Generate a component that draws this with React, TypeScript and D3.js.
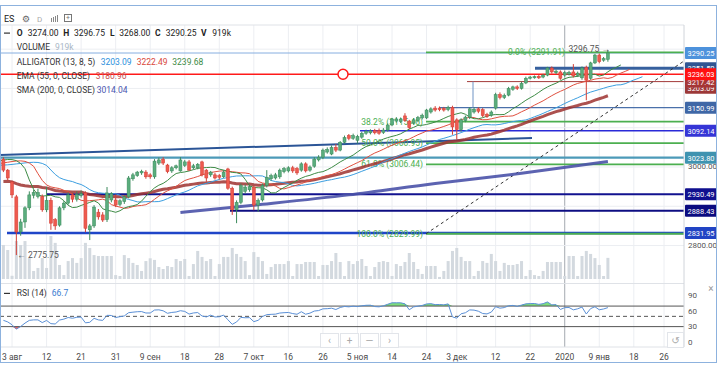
import React from 'react';
import * as d3 from 'd3';

// ---------- DATA ----------
const opens = [3020,2992,2962,2924,2835,2860,2896,2928,2925,2925,2891,2915,2866,2852,2896,2908,2929,2918,2928,2934,2840,2850,2885,2878,2866,2916,2916,2905,2912,2924,2970,2978,2985,2987,2980,2975,3010,3020,3005,2990,2998,2990,3004,3013,2998,2998,3013,2992,2980,2980,2978,2975,2995,2946,2891,2910,2938,2942,2949,2903,2916,2953,2970,2972,2975,2988,2990,2998,2996,2992,3008,2992,3002,3018,3025,3038,3033,3050,3043,3063,3080,3073,3068,3076,3086,3087,3093,3093,3088,3094,3107,3117,3116,3130,3117,3112,3118,3125,3125,3140,3150,3150,3149,3146,3152,3120,3095,3118,3127,3140,3148,3146,3134,3132,3150,3184,3177,3183,3198,3204,3200,3214,3226,3227,3231,3229,3234,3252,3240,3242,3234,3236,3242,3233,3227,3254,3226,3265,3285,3272,3274];
const highs = [3025,2995,2965,2929,2868,2900,2938,2942,2945,2930,2949,2922,2870,2900,2913,2935,2934,2938,2940,2938,2855,2903,2893,2885,2949,2936,2930,2918,2928,2977,2985,2990,2993,2992,2984,3020,3024,3025,3008,3002,3006,3025,3018,3018,3008,3010,3016,2995,2990,2985,2982,2992,2998,2950,2915,2958,2955,2955,2953,2920,2958,2992,2983,2985,2996,3000,3002,3003,3000,3012,3012,3004,3025,3030,3047,3050,3055,3058,3066,3080,3084,3085,3082,3090,3095,3096,3097,3098,3099,3111,3125,3127,3126,3137,3120,3124,3130,3136,3148,3152,3155,3154,3153,3156,3156,3124,3124,3131,3152,3152,3152,3150,3138,3144,3189,3190,3187,3204,3207,3208,3217,3230,3232,3233,3234,3237,3255,3256,3248,3246,3244,3245,3262,3243,3256,3258,3268,3288,3289,3280,3296.75];
const lows = [2987,2965,2921,2775.75,2825,2845,2890,2920,2920,2886,2885,2840,2840,2848,2890,2904,2910,2912,2922,2834,2814,2845,2866,2860,2860,2910,2898,2900,2906,2920,2965,2975,2980,2970,2970,2970,3005,3005,2984,2985,2994,2988,3000,2990,2994,2994,2976,2962,2975,2968,2968,2972,2942,2878,2857,2905,2932,2937,2890,2886,2912,2948,2965,2968,2970,2984,2986,2985,2980,2988,2986,2988,2998,3014,3020,3034,3030,3038,3040,3060,3068,3069,3060,3072,3082,3083,3083,3082,3084,3090,3104,3113,3112,3115,3096,3108,3114,3121,3122,3136,3141,3142,3141,3142,3082,3070,3090,3114,3122,3136,3137,3127,3125,3128,3146,3172,3173,3180,3194,3196,3197,3211,3223,3225,3224,3226,3231,3238,3236,3222,3230,3233,3228,3229,3222,3170,3222,3262,3264,3268,3268];
const closes = [2992,2972,2929,2834.5,2860,2896,2929,2935,2935,2891,2915,2857,2850,2896,2908,2929,2918,2930,2932,2844,2850,2898,2873,2865,2934,2932,2903,2914,2924,2972,2980,2987,2989,2975,2975,3015,3018,3010,2988,2998,3003,3018,3013,2992,3003,3007,2980,2972,2987,2972,2974,2987,2946,2891,2910,2953,2949,2950,2903,2915,2953,2974,2978,2980,2992,2996,2998,2990,2985,3008,2990,3000,3020,3025,3043,3045,3050,3043,3063,3075,3073,3080,3078,3086,3091,3092,3087,3086,3094,3107,3122,3122,3122,3119,3100,3120,3126,3132,3145,3148,3145,3146,3145,3152,3102,3095,3120,3127,3148,3147,3142,3131,3129,3140,3184,3177,3182,3200,3204,3200,3213,3226,3229,3230,3227,3234,3252,3242,3244,3226,3240,3241,3232,3239,3252,3221,3265,3285,3268,3276,3290.25];
const volumes = [1480,1260,140,1650,1480,1650,910,350,480,910,480,1870,1570,610,170,780,910,700,910,1570,1350,1040,1000,1000,1000,1000,170,130,1040,910,700,610,350,780,900,830,520,435,565,520,870,780,870,130,650,1220,960,780,870,130,650,960,960,1350,1090,960,780,170,1170,960,780,220,520,650,650,650,780,130,650,650,740,740,740,130,610,610,780,1130,740,130,780,650,780,870,565,130,520,740,780,740,130,650,565,740,1130,740,435,220,565,565,565,90,350,780,1220,1350,960,780,780,130,350,780,700,1090,780,350,700,610,610,650,780,130,390,170,130,350,740,740,740,740,130,1000,1000,130,1000,1220,1090,910,610,130,919];
// median prices of the bars just before the visible range (alligator warm-up)
const preMedians = [3002,3006,3011,3015,3012,3008,3014,3019,3024,3023,3027,3024,3018];
const emaSeed = 2962;
const prevClose = 3022;
const rsiSeedGain = 9;
const rsiSeedLoss = 10;
// SMA(200) at a few bars
const smaBars = [41,60,80,100,120,140];
const smaValues = [2884,2905,2929,2958,2984,3014];

const tickBars = [2,10,18,26,34,42,50,58,66,74,82,90,98,105,114,122,130,138,146,153];
const tickLabels = ['3 авг','12','21','31','9 сен','18','28','7 окт','16','26','5 ноя','14','24','3 дек','12','22','2020','9 янв','18','26'];
const priceTicks = [2800,2900,3000,3100,3200,3300];
const rsiTicks = [0,30,60,90];

const fibHigh = 3291.91;
const fibLow = 2829.99;
const fibLevels = [0,0.382,0.5,0.618,1];

// ---------- LAYOUT ----------
const PANE_R = 684;
const MAIN_T = 25, MAIN_B = 282;
const RSI_T = 285, RSI_B = 347;
const LBL_H = 12;

const N = closes.length;
const x = d3.scaleLinear().domain([0, N - 1]).range([3.4, 607.9]);
const y = d3.scaleLinear().domain([2831.95, 3290.25]).range([233, 53]);
const yVol = d3.scaleLinear().domain([0, 2000]).range([279, 233]);
const yR = d3.scaleLinear().domain([0, 100]).range([342, 290.7]);

const FONT = 'Roboto, "Open Sans", sans-serif';

function smma(src: number[], n: number) {
  const out: number[] = [];
  let v = src[0];
  src.forEach((p, i) => {
    v = i === 0 ? p : (v * (n - 1) + p) / n;
    out.push(v);
  });
  return out;
}

export default function App() {
  const medians = [...preMedians, ...highs.map((h, i) => (h + lows[i]) / 2)];
  const P = preMedians.length;
  const alligator = [
    { n: 13, shift: 8, color: '#3b9ee0' },
    { n: 8, shift: 5, color: '#e0503f' },
    { n: 5, shift: 3, color: '#3d8b45' },
  ].map((a) => {
    const s = smma(medians, a.n);
    const pts: [number, number][] = [];
    s.forEach((v, k) => {
      const b = k - P + a.shift;
      if (b >= -2) pts.push([x(b), y(v)]);
    });
    return { ...a, pts };
  });

  const alpha = 2 / 56;
  let e = emaSeed;
  const ema = closes.map((c) => (e = e + alpha * (c - e)));

  let ag = rsiSeedGain, al = rsiSeedLoss, pc = prevClose;
  const rsi = closes.map((c) => {
    const d = c - pc;
    pc = c;
    ag = (ag * 13 + Math.max(d, 0)) / 14;
    al = (al * 13 + Math.max(-d, 0)) / 14;
    return 100 - 100 / (1 + ag / al);
  });

  const line = d3.line<[number, number]>().x((d) => d[0]).y((d) => d[1]);
  const emaPath = d3.line<number>().x((_, i) => x(i)).y((d) => y(d))(ema) || '';
  const smaPath = d3.line<number>().x((_, i) => x(smaBars[i])).y((d) => y(d)).curve(d3.curveMonotoneX)(smaValues) || '';
  const rsiPath = d3.line<number>().x((_, i) => x(i)).y((d) => yR(d))(rsi) || '';
  const obArea = d3.area<number>().x((_, i) => x(i)).y0(yR(70)).y1((d) => yR(Math.max(d, 70)))(rsi) || '';
  const osArea = d3.area<number>().x((_, i) => x(i)).y0(yR(30)).y1((d) => yR(Math.min(d, 30)))(rsi) || '';

  const xb = (px: number) => x.invert(px);

  // horizontal drawings: [price, startBar, color, width]
  const hLines: [number, number, string, number][] = [
    [3290.25, xb(0), '#86aee0', 1],
    [3251.5, xb(535), '#36609e', 3],
    [3236.03, xb(0), '#ff1a1a', 1.5],
    [3217.42, xb(467), '#a33a3a', 1],
    [3150.99, xb(440), '#4a70aa', 1.2],
    [3092.14, xb(360), '#2a2ad8', 1.6],
    [3023.8, xb(0), '#4c9ab8', 2.2],
    [2930.49, xb(47), '#12128f', 2],
    [2888.43, xb(230), '#0d0d82', 2],
    [2831.95, xb(7), '#1f45c8', 2.4],
  ];

  const priceLabels: [number, string, string][] = [
    [3251.5, '3251.50', '#2f5592'],
    [3202.0, '3203.09', '#9c3838'],
    [3217.42, '3217.42', '#a53636'],
    [3236.03, '3236.03', '#ff1111'],
    [3290.25, '3290.25', '#4d92dc'],
    [3150.99, '3150.99', '#3f67a6'],
    [3092.14, '3092.14', '#3535d6'],
    [3023.8, '3023.80', '#3f93b0'],
    [2930.49, '2930.49', '#10108f'],
    [2888.43, '2888.43', '#0b0b80'],
    [2831.95, '2831.95', '#2144c4'],
  ];
  const visibleTicks = priceTicks.filter((p) => priceLabels.every(([lp]) => Math.abs(y(lp) - y(p)) > 9));

  const fibStart = xb(426);
  const trendA: [number, number] = [x(-0.79), y(3030.5)];
  const trendB: [number, number] = [x(xb(532)), y(3073.9)];

  const last = N - 1;

  return (
    <svg width={720} height={365} style={{ display: 'block', position: 'absolute', left: 0, top: 0, background: '#fff' }} fontFamily={FONT}>
      <defs>
        <clipPath id="mainClip"><rect x={0} y={MAIN_T} width={PANE_R} height={MAIN_B - MAIN_T} /></clipPath>
        <clipPath id="rsiClip"><rect x={0} y={RSI_T} width={PANE_R} height={RSI_B - RSI_T} /></clipPath>
      </defs>
      <rect x={0} y={0} width={720} height={365} fill="#fff" />

      {/* grid */}
      {tickBars.map((b, i) => (
        <line key={'vg' + i} x1={x(b)} x2={x(b)} y1={MAIN_T} y2={RSI_B} stroke={tickLabels[i] === '2020' ? '#a4a9b0' : '#eceef2'} strokeWidth={1} />
      ))}
      {priceTicks.map((p) => (
        <line key={'hg' + p} x1={0} x2={PANE_R} y1={y(p)} y2={y(p)} stroke="#eceef2" />
      ))}

      <g clipPath="url(#mainClip)">
        {/* volume */}
        {volumes.map((v, i) => (
          <rect key={'v' + i} x={x(i) - 1.5} y={yVol(v)} width={3} height={yVol(0) - yVol(v)} fill="#d3d9df" />
        ))}

        {/* horizontal drawings */}
        {hLines.map(([p, b, c, w], i) => (
          <line key={'hl' + i} x1={x(b)} x2={PANE_R} y1={y(p)} y2={y(p)} stroke={c} strokeWidth={w} />
        ))}
        <line x1={x(xb(473))} x2={x(xb(473))} y1={y(3217.42)} y2={y(3150.99)} stroke="#6f93c4" strokeWidth={1} />
        <path d={line([trendA, trendB]) || ''} stroke="#2b5597" strokeWidth={2} fill="none" />

        {/* fib */}
        {fibLevels.map((r) => {
          const p = fibHigh - r * (fibHigh - fibLow);
          return <line key={'fib' + r} x1={x(fibStart)} x2={PANE_R} y1={y(p)} y2={y(p)} stroke="#4caf50" strokeWidth={1.8} />;
        })}
        <line x1={x(fibStart)} y1={y(fibLow)} x2={x(xb(697))} y2={y(fibHigh)} stroke="#333" strokeWidth={1} strokeDasharray="3,3" />
        {fibLevels.map((r) => {
          const p = fibHigh - r * (fibHigh - fibLow);
          const label = `${(r * 100).toFixed(1)}% (${p.toFixed(2)})`;
          const xr = r === 0 ? 565 : 423;
          return (
            <text key={'fl' + r} x={xr} y={y(p)} textAnchor="end" dominantBaseline="central" fontSize={8.5} fill="#4caf50">{label}</text>
          );
        })}

        {/* SMA 200 & EMA 55 */}
        <path d={smaPath} stroke="#4a52a8" strokeWidth={3} fill="none" opacity={0.9} />
        <path d={emaPath} stroke="#9e3330" strokeWidth={3} fill="none" opacity={0.85} />

        {/* alligator */}
        {alligator.map((a) => (
          <path key={a.n} d={line(a.pts) || ''} stroke={a.color} strokeWidth={1} fill="none" />
        ))}

        {/* candles */}
        {closes.map((c, i) => {
          const o = opens[i];
          const up = c >= o;
          const fill = up ? '#5aad7d' : '#ee5a4f';
          const stroke = up ? '#3c8a5c' : '#d23f36';
          const top = y(Math.max(o, c));
          const h = Math.max(1, Math.abs(y(o) - y(c)));
          return (
            <g key={'c' + i}>
              <line x1={x(i)} x2={x(i)} y1={y(highs[i])} y2={y(lows[i])} stroke={stroke} strokeWidth={1} />
              <rect x={x(i) - 1.5} y={top} width={3} height={h} fill={fill} stroke={stroke} strokeWidth={0.5} />
            </g>
          );
        })}

        {/* red alert line circle */}
        <circle cx={x(xb(343))} cy={y(3236.03)} r={5} fill="#fff" stroke="#ff1a1a" strokeWidth={1.5} />

        {/* high / low markers */}
        <text x={610} y={y(highs[last]) - 1.5} textAnchor="end" dominantBaseline="central" fontSize={8.5} fill="#555">3296.75 →</text>
        <text x={x(3) + 1} y={y(2775.75)} dominantBaseline="central" fontSize={8.5} fill="#555">← 2775.75</text>
      </g>

      {/* RSI pane */}
      <g clipPath="url(#rsiClip)">
        <path d={obArea} fill="#7ddc7d" />
        <path d={osArea} fill="#f06a6a" />
        <line x1={0} x2={PANE_R} y1={yR(70)} y2={yR(70)} stroke="#555" strokeWidth={1} />
        <line x1={0} x2={PANE_R} y1={yR(50)} y2={yR(50)} stroke="#555" strokeWidth={1} strokeDasharray="4,3" />
        <line x1={0} x2={PANE_R} y1={yR(30)} y2={yR(30)} stroke="#555" strokeWidth={1} />
        <path d={rsiPath} stroke="#5a8fd6" strokeWidth={1} fill="none" />
      </g>

      {/* pane borders */}
      <line x1={0} x2={PANE_R} y1={MAIN_T} y2={MAIN_T} stroke="#dfe2e7" />
      <line x1={0} x2={PANE_R} y1={283.5} y2={283.5} stroke="#dfe2e7" />
      <line x1={0} x2={PANE_R} y1={RSI_B} y2={RSI_B} stroke="#dfe2e7" />
      <line x1={PANE_R} x2={PANE_R} y1={MAIN_T} y2={RSI_B} stroke="#d0d4da" />

      {/* price axis ticks */}
      {visibleTicks.map((p) => (
        <text key={'pt' + p} x={688} y={y(p)} dominantBaseline="central" fontSize={8} fill="#555">{p.toFixed(2)}</text>
      ))}
      {priceLabels.map(([p, t, bg], i) => (
        <g key={'pl' + i}>
          <rect x={685} y={y(p) - LBL_H / 2} width={32} height={LBL_H} fill={bg} rx={1} />
          <text x={687.5} y={y(p) + 0.5} dominantBaseline="central" fontSize={8} textLength={27} lengthAdjust="spacingAndGlyphs" fill="#fff">{t}</text>
        </g>
      ))}
      {rsiTicks.map((r) => (
        <text key={'rt' + r} x={688} y={yR(r)} dominantBaseline="central" fontSize={8} fill="#555">{r}</text>
      ))}

      {/* time axis */}
      {tickBars.map((b, i) => (
        <text key={'tl' + i} x={x(b)} y={357} textAnchor="middle" dominantBaseline="central" fontSize={8.5} fill="#4a4a4a">{tickLabels[i]}</text>
      ))}

      {/* legend */}
      <text x={4} y={19} dominantBaseline="central" fontSize={9} fill="#222">ES</text>
      <text x={22} y={19} dominantBaseline="central" fontSize={9} fill="#666" fontFamily="DejaVu Sans">⚙</text>
      <text x={37} y={19.5} dominantBaseline="central" fontSize={8} fill="#aaa">D</text>
      <g fill="#888">
        <rect x={51} y={18} width={1} height={4} />
        <rect x={53} y={17} width={1} height={5} />
        <rect x={55} y={16} width={1} height={6} />
        <rect x={57} y={15} width={1} height={7} />
      </g>
      <rect x={64.5} y={14.5} width={7} height={7} fill="none" stroke="#777" />
      <text x={68} y={18.2} textAnchor="middle" dominantBaseline="central" fontSize={7} fill="#777">+</text>

      <g fontSize={8.5} fill="#222">
        <rect x={4} y={32.5} width={6} height={1.2} fill="#333" />
        <text x={16.7} y={33} dominantBaseline="central" fontWeight="bold">O</text>
        <text x={27.7} y={33} dominantBaseline="central">3274.00</text>
        <text x={63.3} y={33} dominantBaseline="central" fontWeight="bold">H</text>
        <text x={74} y={33} dominantBaseline="central">3296.75</text>
        <text x={110} y={33} dominantBaseline="central" fontWeight="bold">L</text>
        <text x={119.3} y={33} dominantBaseline="central">3268.00</text>
        <text x={155} y={33} dominantBaseline="central" fontWeight="bold">C</text>
        <text x={165.7} y={33} dominantBaseline="central">3290.25</text>
        <text x={201} y={33} dominantBaseline="central" fontWeight="bold">V</text>
        <text x={212.3} y={33} dominantBaseline="central">919k</text>

        <text x={16.7} y={46.7} dominantBaseline="central" fill="#333">VOLUME</text>
        <text x={55} y={46.7} dominantBaseline="central" fill="#a9b7c6">919k</text>

        <text x={16.7} y={61.7} dominantBaseline="central" fill="#333">ALLIGATOR (13, 8, 5)</text>
        <text x={100.7} y={61.7} dominantBaseline="central" fill="#2c8fdc">3203.09</text>
        <text x={136.7} y={61.7} dominantBaseline="central" fill="#d9473a">3222.49</text>
        <text x={172.3} y={61.7} dominantBaseline="central" fill="#3d8b45">3239.68</text>

        <text x={16.7} y={75.7} dominantBaseline="central" fill="#333">EMA (55, 0, CLOSE)</text>
        <text x={95.7} y={75.7} dominantBaseline="central" fill="#c95050">3180.96</text>

        <text x={16.7} y={90} dominantBaseline="central" fill="#333">SMA (200, 0, CLOSE)</text>
        <text x={96.7} y={90} dominantBaseline="central" fill="#4a56b0">3014.04</text>
      </g>

      <g fontSize={8.5}>
        <rect x={4} y={292.8} width={6} height={1.2} fill="#333" />
        <text x={16.7} y={293.3} dominantBaseline="central" fill="#333">RSI (14)</text>
        <text x={51.7} y={293.3} dominantBaseline="central" fill="#3a7cd0">66.7</text>
      </g>

      {/* navigation buttons */}
      {['‹', '+', '—', '›'].map((s, i) => (
        <g key={'nb' + i}>
          <rect x={320.5 + i * 20} y={333.5} width={18} height={14} fill="#fff" fillOpacity={0.9} stroke="#e2e5ea" />
          <text x={329.5 + i * 20} y={340.5} textAnchor="middle" dominantBaseline="central" fontSize={10} fill="#aaa">{s}</text>
        </g>
      ))}
      <rect x={667.5} y={332.5} width={16} height={15} fill="#fff" stroke="#e2e5ea" />
      <text x={675.5} y={340} textAnchor="middle" dominantBaseline="central" fontSize={10} fill="#aaa" fontFamily="DejaVu Sans">↺</text>
      <text x={711} y={288} textAnchor="middle" dominantBaseline="central" fontSize={10} fill="#999">×</text>

      {/* outer frame */}
      <rect x={0.5} y={5.5} width={716} height={357} fill="none" stroke="#8db2de" strokeWidth={1} />
    </svg>
  );
}
